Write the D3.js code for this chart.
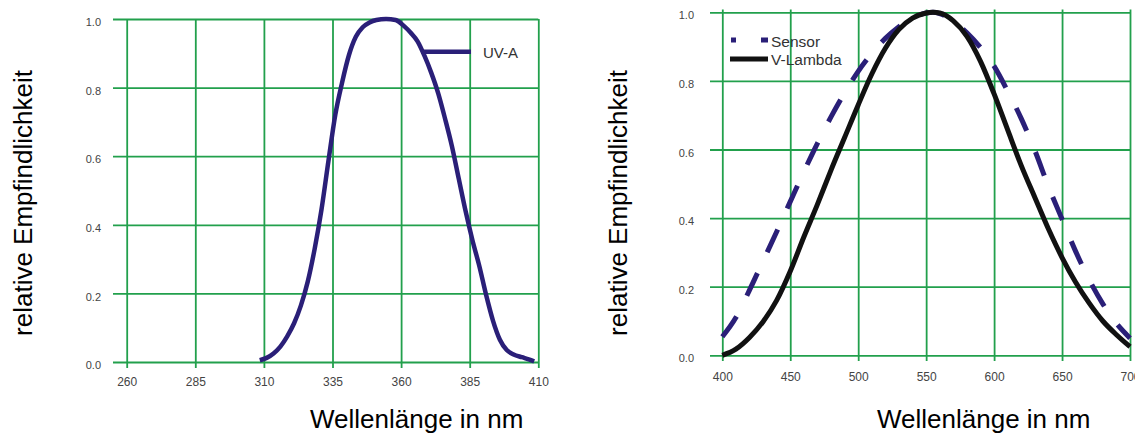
<!DOCTYPE html>
<html>
<head>
<meta charset="utf-8">
<script src="https://cdn.jsdelivr.net/npm/d3@7"></script>
<style>
  body { margin: 0; background: #fff; }
  svg { display: block; font-family: "Liberation Sans", Arial, sans-serif; }
</style>
</head>
<body>
<svg id="chart" width="1135" height="433"></svg>
<script>
// left panel: UV-A sensor
var uvaTicksX = [260, 285, 310, 335, 360, 385, 410]
var uvaNm  = [308.5, 311, 313.5, 316, 318.5, 321, 323.5, 326, 328.5, 331, 333.5, 336, 338.5, 341, 343.5, 346, 348.5, 351, 354.5, 358, 361, 363.5, 366, 368.5, 371, 373.5, 376, 378.5, 381, 383.5, 386, 388.5, 391, 393.5, 396, 398.5, 401, 404, 406.5, 408.5]
var uvaVal = [0.005, 0.012, 0.025, 0.045, 0.075, 0.113, 0.165, 0.235, 0.33, 0.445, 0.585, 0.72, 0.815, 0.895, 0.948, 0.976, 0.99, 0.997, 1.0, 0.997, 0.98, 0.96, 0.935, 0.893, 0.843, 0.784, 0.71, 0.63, 0.535, 0.44, 0.355, 0.28, 0.195, 0.12, 0.065, 0.035, 0.022, 0.014, 0.008, 0.002]

// right panel: light sensor vs V-Lambda
var visTicksX = [400, 450, 500, 550, 600, 650, 700]
var sensorNm  = [400, 410, 420, 430, 440, 450, 460, 470, 480, 490, 500, 510, 520, 530, 540, 550, 555, 560, 570, 580, 590, 600, 610, 620, 630, 640, 650, 660, 670, 680, 690, 700]
var sensorVal = [0.054, 0.11, 0.19, 0.275, 0.36, 0.448, 0.535, 0.618, 0.695, 0.765, 0.828, 0.88, 0.924, 0.958, 0.984, 0.998, 1.0, 0.996, 0.975, 0.94, 0.897, 0.843, 0.77, 0.69, 0.597, 0.492, 0.397, 0.303, 0.22, 0.15, 0.093, 0.05]
var vLambdaNm  = [400, 410, 420, 430, 440, 450, 460, 470, 480, 490, 500, 510, 520, 530, 540, 550, 555, 560, 570, 580, 590, 600, 610, 620, 630, 640, 650, 660, 670, 680, 690, 700]
var vLambdaVal = [0.0, 0.018, 0.052, 0.098, 0.16, 0.245, 0.345, 0.44, 0.54, 0.635, 0.73, 0.82, 0.895, 0.95, 0.983, 0.998, 1.0, 0.998, 0.975, 0.93, 0.857, 0.762, 0.657, 0.553, 0.46, 0.368, 0.285, 0.213, 0.152, 0.1, 0.06, 0.025]

var yTicks = [0, 0.2, 0.4, 0.6, 0.8, 1.0]

var gridColor = "#22a04c"
var navy = "#2a1f78"
var svg = d3.select("#chart")

var zip = function(xs, ys){
  return xs.map(function(d, i){ return {x: d, y: ys[i]} })
}

var drawGrid = function(g, x, y, ticksX, opt){
  // vertical grid lines with the x tick labels
  g.append("g")
    .attr("transform", "translate(0," + opt.gridBottom + ")")
    .call(d3.axisBottom(x).tickValues(ticksX).tickFormat(d3.format("d"))
      .tickSizeInner(-(opt.gridBottom - opt.gridTop)).tickSizeOuter(0).tickPadding(opt.xPad))
    .call(function(a){
      a.select(".domain").remove()
      a.selectAll("line").attr("stroke", gridColor).attr("stroke-width", 1.8)
      a.selectAll("text").attr("fill", "#444").style("font-size", "12px")
    })
  // horizontal grid lines with the y tick labels
  g.append("g")
    .attr("transform", "translate(" + opt.gridLeft + ",0)")
    .call(d3.axisLeft(y).tickValues(yTicks).tickFormat(d3.format(".1f"))
      .tickSizeInner(-(x.range()[1] - opt.gridLeft)).tickSizeOuter(0).tickPadding(opt.yPad))
    .call(function(a){
      a.select(".domain").remove()
      a.selectAll("line").attr("stroke", gridColor).attr("stroke-width", 1.8)
      a.selectAll("text").attr("fill", "#444").attr("dy", "0.6em").style("font-size", "11px")
    })
}

var titles = function(yX, xX){
  svg.append("text")
    .attr("transform", "translate(" + yX + ",203) rotate(-90)")
    .attr("text-anchor", "middle")
    .style("font-size", "26px")
    .text("relative Empfindlichkeit")
  svg.append("text")
    .attr("x", xX).attr("y", 427.5)
    .style("font-size", "26px")
    .text("Wellenlänge in nm")
}

// ---- left chart
var x1 = d3.scaleLinear().domain([260, 410]).range([126.7, 538.3])
var y1 = d3.scaleLinear().domain([0, 1]).range([362, 19])
var g1 = svg.append("g")
drawGrid(g1, x1, y1, uvaTicksX, {gridTop: 19, gridBottom: 368, gridLeft: 113, xPad: 9.5, yPad: 12})

var line1 = d3.line().curve(d3.curveMonotoneX)
  .x(function(d){ return x1(d.x) })
  .y(function(d){ return y1(d.y) })

g1.append("path")
  .datum(zip(uvaNm, uvaVal))
  .attr("fill", "none")
  .attr("stroke", navy)
  .attr("stroke-width", 4.5)
  .attr("d", line1)

// label pointer for UV-A
g1.append("line")
  .attr("x1", 421).attr("x2", 471).attr("y1", 51.7).attr("y2", 51.7)
  .attr("stroke", navy).attr("stroke-width", 4.5)
g1.append("text")
  .attr("x", 483).attr("y", 57.5)
  .attr("fill", "#333")
  .style("font-size", "15px")
  .text("UV-A")

titles(32, 310)

// ---- right chart
var x2 = d3.scaleLinear().domain([400, 700]).range([722.3, 1130])
var y2 = d3.scaleLinear().domain([0, 1]).range([355.3, 12.3])
var g2 = svg.append("g")
drawGrid(g2, x2, y2, visTicksX, {gridTop: 9.5, gridBottom: 361, gridLeft: 710, xPad: 11, yPad: 16})

var line2 = d3.line().curve(d3.curveMonotoneX)
  .x(function(d){ return x2(d.x) })
  .y(function(d){ return y2(d.y) })

g2.append("path")
  .datum(zip(sensorNm, sensorVal))
  .attr("fill", "none")
  .attr("stroke", navy)
  .attr("stroke-width", 5)
  .attr("stroke-dasharray", "25,23")
  .attr("d", line2)

g2.append("path")
  .datum(zip(vLambdaNm, vLambdaVal))
  .attr("fill", "none")
  .attr("stroke", "#111")
  .attr("stroke-width", 5)
  .attr("d", line2)

// legend
g2.append("line")
  .attr("x1", 731).attr("x2", 768).attr("y1", 40).attr("y2", 40)
  .attr("stroke", navy).attr("stroke-width", 5)
  .attr("stroke-dasharray", "5,25,7")
g2.append("text").attr("x", 771).attr("y", 46.5)
  .attr("fill", "#333").style("font-size", "15.5px").text("Sensor")
g2.append("line")
  .attr("x1", 730).attr("x2", 768).attr("y1", 59).attr("y2", 59)
  .attr("stroke", "#111").attr("stroke-width", 5)
g2.append("text").attr("x", 771).attr("y", 64.5)
  .attr("fill", "#333").style("font-size", "15.5px").text("V-Lambda")

titles(627, 877)
</script>
</body>
</html>
